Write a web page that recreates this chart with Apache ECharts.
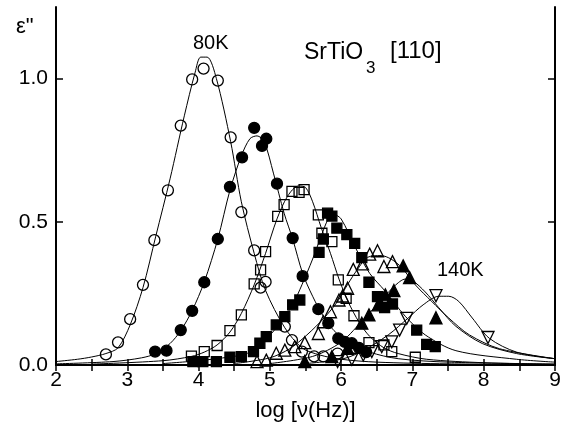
<!DOCTYPE html>
<html>
<head>
<meta charset="utf-8">
<script src="https://cdn.jsdelivr.net/npm/echarts@6/dist/echarts.min.js"></script>
<style>
  html, body { margin: 0; padding: 0; background: #fff; }
  #chart { width: 566px; height: 428px; }
</style>
</head>
<body>
<div id="chart"></div>
<script>
var chart = echarts.init(document.getElementById('chart'))

// measured points, [log nu, eps'']
var circ80 = [[2.70,0.037],[2.87,0.079],[3.04,0.16],[3.22,0.28],[3.38,0.436],[3.57,0.61],[3.75,0.836],[3.91,0.997],
    [4.07,1.035],[4.27,0.993],[4.45,0.795],[4.60,0.534],[4.78,0.40],[4.87,0.27],[4.94,0.29],[5.21,0.134],[5.31,0.087],
    [5.45,0.047],[5.62,0.03],[5.75,0.03],[5.95,0.04]]
var dots = [[3.39,0.047],[3.55,0.05],[3.75,0.122],[3.91,0.189],[4.08,0.289],[4.27,0.44],[4.44,0.622],[4.61,0.725],
    [4.78,0.828],[4.89,0.765],[4.95,0.79],[5.10,0.633],[5.32,0.443],[5.46,0.31],[5.68,0.195],[5.82,0.146],[5.96,0.093],
    [6.05,0.081],[6.15,0.076],[6.25,0.06],[6.35,0.045]]
var openSq = [[3.90,0.031],[4.08,0.047],[4.26,0.068],[4.44,0.12],[4.60,0.175],[4.78,0.283],[4.87,0.332],[4.94,0.396],
    [5.11,0.519],[5.20,0.56],[5.31,0.606],[5.41,0.603],[5.48,0.612],[5.68,0.524],[5.73,0.46],[5.87,0.431],[5.96,0.297],
    [6.07,0.233],[6.18,0.172],[6.39,0.078],[6.60,0.07],[6.71,0.047],[7.04,0.027]]
var fillSq = [[3.92,0.012],[4.06,0.012],[4.25,0.012],[4.44,0.027],[4.60,0.029],[4.77,0.047],[4.86,0.076],[4.95,0.099],
    [5.09,0.14],[5.21,0.169],[5.32,0.21],[5.42,0.227],[5.69,0.393],[5.75,0.44],[5.81,0.53],[5.87,0.52],[5.94,0.478],
    [6.08,0.455],[6.19,0.425],[6.29,0.375],[6.39,0.289],[6.51,0.239],[6.61,0.20],[6.72,0.213],[7.06,0.122],[7.20,0.072],
    [7.32,0.064]]
var openTri = [[4.82,0.012],[4.95,0.017],[5.09,0.041],[5.21,0.052],[5.35,0.064],[5.49,0.078],[5.68,0.11],[5.75,0.151],
    [5.85,0.186],[5.97,0.227],[6.02,0.241],[6.09,0.268],[6.17,0.334],[6.30,0.353],[6.40,0.387],[6.51,0.399],[6.60,0.344],
    [6.72,0.361]]
var fillTri = [[5.49,0.012],[5.87,0.029],[6.09,0.058],[6.29,0.146],[6.39,0.175],[6.52,0.21],[6.62,0.245],[6.74,0.26],
    [6.87,0.346],[6.96,0.305],[7.33,0.165]]
var downTri = [[5.95,0.012],[6.15,0.02],[6.31,0.035],[6.43,0.047],[6.57,0.064],[6.71,0.081],[6.82,0.122],[6.92,0.163],
    [7.33,0.242],[8.06,0.096]]

// fitted curves
var fit80 = [[2.0,0.012],[2.3,0.02],[2.5,0.028],[2.7,0.04],[2.87,0.06],[3.04,0.14],[3.22,0.27],[3.4,0.45],[3.6,0.65],
    [3.8,0.87],[3.95,1.02],[4.03,1.075],[4.12,1.075],[4.25,1.0],[4.45,0.78],[4.6,0.57],[4.78,0.39],[4.94,0.26],
    [5.21,0.13],[5.45,0.06],[5.7,0.035],[6.0,0.02],[6.5,0.01],[7.5,0.004],[9.0,0.001]]
var fitDots = [[2.0,0.004],[2.8,0.012],[3.2,0.025],[3.4,0.04],[3.6,0.075],[3.75,0.12],[3.91,0.19],[4.08,0.29],
    [4.27,0.44],[4.44,0.61],[4.6,0.73],[4.72,0.79],[4.82,0.80],[4.92,0.78],[5.05,0.67],[5.2,0.53],[5.32,0.44],
    [5.46,0.32],[5.6,0.24],[5.75,0.17],[5.9,0.12],[6.1,0.08],[6.4,0.045],[6.8,0.022],[7.5,0.01],[9.0,0.003]]
var fitOpenSq = [[2.5,0.003],[3.5,0.015],[3.9,0.03],[4.08,0.045],[4.26,0.07],[4.44,0.115],[4.6,0.18],[4.78,0.28],
    [4.94,0.39],[5.1,0.51],[5.25,0.59],[5.4,0.625],[5.5,0.62],[5.6,0.57],[5.72,0.48],[5.85,0.39],[5.97,0.30],
    [6.1,0.22],[6.25,0.15],[6.4,0.1],[6.6,0.06],[6.8,0.04],[7.2,0.02],[8.0,0.008],[9.0,0.003]]
var fitFillSq = [[3.5,0.005],[4.0,0.015],[4.44,0.028],[4.6,0.035],[4.77,0.05],[4.95,0.09],[5.09,0.13],[5.21,0.17],
    [5.32,0.21],[5.45,0.28],[5.6,0.37],[5.72,0.45],[5.82,0.51],[5.9,0.525],[6.0,0.51],[6.2,0.41],[6.4,0.32],
    [6.61,0.26],[6.9,0.17],[7.18,0.105],[7.61,0.05],[8.46,0.02],[9.0,0.01]]
var fitOpenTri = [[4.5,0.005],[5.0,0.025],[5.28,0.057],[5.52,0.105],[5.76,0.164],[5.95,0.222],[6.09,0.281],
    [6.23,0.334],[6.37,0.376],[6.56,0.382],[6.70,0.37],[6.85,0.34],[7.04,0.28],[7.27,0.222],[7.51,0.164],
    [7.80,0.105],[8.22,0.057],[9.0,0.022]]
var fitFillTri = [[5.0,0.005],[5.6,0.03],[6.0,0.08],[6.33,0.164],[6.57,0.228],[6.75,0.276],[6.9,0.30],[7.0,0.295],
    [7.18,0.255],[7.37,0.2],[7.61,0.135],[7.98,0.075],[8.46,0.04],[9.0,0.022]]
var fit140 = [[5.5,0.005],[6.0,0.02],[6.27,0.045],[6.66,0.105],[6.94,0.164],[7.15,0.21],[7.37,0.24],[7.51,0.24],
    [7.65,0.222],[7.84,0.164],[8.08,0.093],[8.46,0.045],[9.0,0.022]]

var xTicks = [2, 3, 4, 5, 6, 7, 8, 9]
var yTicks = [0, 0.5, 1.0]

var font = 'Liberation Sans, Arial, sans-serif'

function fitLine(d) {
    return { type: 'line', data: d, smooth: 0.3, symbol: 'none', z: 5,
        lineStyle: { color: '#000', width: 1 }, xAxisIndex: 0, yAxisIndex: 0 }
}
function pts(d, sym, size, filled, rot) {
    return { type: 'scatter', data: d, symbol: sym, symbolSize: size, symbolRotate: rot || 0, z: 3,
        itemStyle: { color: filled ? '#000' : 'rgba(255,255,255,0)', borderColor: '#000', borderWidth: 1.3, opacity: 1 } }
}

var option = {
    animation: false,
    backgroundColor: '#fff',
    grid: { left: 56, right: 11, top: 7, bottom: 63, show: false },
    xAxis: [{
        type: 'value', min: 2, max: 9, interval: 1, position: 'bottom',
        name: 'log [ν(Hz)]', nameLocation: 'middle', nameGap: 35,
        nameTextStyle: { fontFamily: font, fontSize: 22, color: '#000' },
        axisLine: { lineStyle: { color: '#000', width: 2 } },
        axisTick: { inside: true, length: 6, lineStyle: { color: '#000', width: 1.5 } },
        minorTick: { show: true, splitNumber: 2, length: 6, lineStyle: { color: '#000', width: 1.5 } },
        axisLabel: { fontFamily: font, fontSize: 21, color: '#000', margin: 5,
            customValues: xTicks },
        splitLine: { show: false }
    }, {
        type: 'value', min: 2, max: 9, interval: 1, position: 'top',
        axisLine: { lineStyle: { color: '#000', width: 2 } },
        axisTick: { inside: true, length: 6, lineStyle: { color: '#000', width: 1.5 } },
        minorTick: { show: true, splitNumber: 2, length: 6, lineStyle: { color: '#000', width: 1.5 } },
        axisLabel: { show: false },
        splitLine: { show: false }
    }],
    yAxis: [{
        type: 'value', min: 0, max: 1.25, position: 'left',
        axisLine: { show: true, lineStyle: { color: '#000', width: 2 } },
        axisTick: { inside: true, length: 7, customValues: yTicks, lineStyle: { color: '#000', width: 1.5 } },
        axisLabel: { fontFamily: font, fontSize: 21, color: '#000', margin: 8, customValues: yTicks,
            formatter: function (v) { return v.toFixed(1) } },
        splitLine: { show: false }
    }, {
        type: 'value', min: 0, max: 1.25, position: 'right',
        axisLine: { show: true, lineStyle: { color: '#000', width: 2 } },
        axisTick: { inside: true, length: 7, customValues: yTicks, lineStyle: { color: '#000', width: 1.5 } },
        axisLabel: { show: false },
        splitLine: { show: false }
    }],
    graphic: [
        { type: 'text', left: 16, top: 16, style: { text: 'ε"', font: '22px ' + font, fill: '#000' } },
        { type: 'text', left: 193, top: 33, style: { text: '80K', font: '20px ' + font, fill: '#000' } },
        { type: 'text', left: 437, top: 260, style: { text: '140K', font: '20px ' + font, fill: '#000' } },
        { type: 'text', left: 304, top: 41, style: { text: 'SrTiO', font: '23px ' + font, fill: '#000' } },
        { type: 'text', left: 366, top: 60, style: { text: '3', font: '17px ' + font, fill: '#000' } },
        { type: 'text', left: 390, top: 39, style: { text: '[110]', font: '24px ' + font, fill: '#000' } }
    ],
    series: [
        fitLine(fit80), fitLine(fitDots), fitLine(fitOpenSq), fitLine(fitFillSq),
        fitLine(fitOpenTri), fitLine(fitFillTri), fitLine(fit140),
        pts(circ80, 'circle', 11, false),
        pts(dots, 'circle', 11, true),
        pts(openSq, 'rect', 10, false),
        pts(fillSq, 'rect', 10, true),
        pts(openTri, 'triangle', 12, false),
        pts(fillTri, 'triangle', 12, true),
        pts(downTri, 'triangle', 12, false, 180)
    ]
}
chart.setOption(option)
</script>
</body>
</html>
